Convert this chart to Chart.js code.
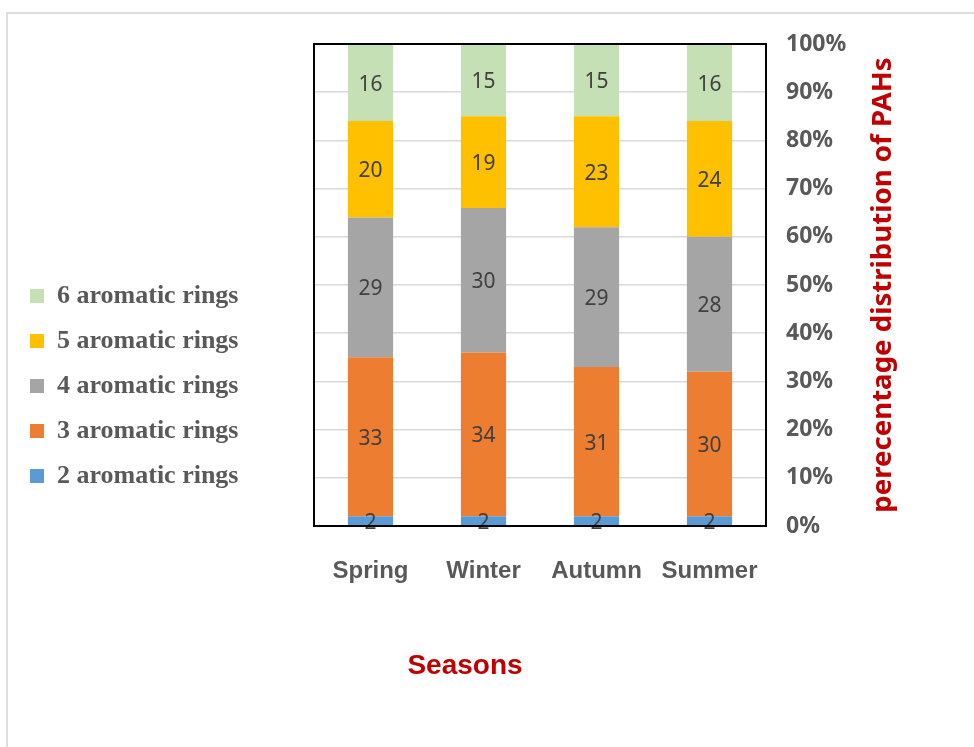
<!DOCTYPE html>
<html>
<head>
<meta charset="utf-8">
<script src="https://cdn.jsdelivr.net/npm/chart.js@4.4.0/dist/chart.umd.min.js"></script>
<style>
  html, body { margin: 0; padding: 0; background: #fff; overflow: hidden; }
  .frame { position: absolute; left: 6px; top: 12px; width: 1000px; height: 800px; border: 2px solid #dedede; }
  #wrap { position: absolute; left: 0; top: 0; width: 974px; height: 747px; }
</style>
</head>
<body>
<div class="frame"></div>
<div id="wrap"><canvas id="pahChart" width="974" height="747"></canvas></div>
<script>
const seasons = ["Spring", "Winter", "Autumn", "Summer"];
const ringNames = ["2 aromatic rings", "3 aromatic rings", "4 aromatic rings", "5 aromatic rings", "6 aromatic rings"];
const ring2 = [2, 2, 2, 2];
const ring3 = [33, 34, 31, 30];
const ring4 = [29, 30, 29, 28];
const ring5 = [20, 19, 23, 24];
const ring6 = [16, 15, 15, 16];
const ringColors = ["#5B9BD5", "#ED7D31", "#A5A5A5", "#FFC000", "#C5E0B4"];
const yMax = 100;
const yStep = 10;

const PLOT_LEFT = 314;
const PAD_LEFT = 11;
const PAD_BOTTOM = 19;

// numbers in the middle of every stacked segment
const segmentLabels = {
  id: "segmentLabels",
  afterDatasetsDraw(chart) {
    const ctx = chart.ctx;
    ctx.save();
    ctx.font = '21px "Noto Sans"';
    ctx.fillStyle = "#404040";
    ctx.textAlign = "center";
    ctx.textBaseline = "middle";
    chart.data.datasets.forEach((ds, i) => {
      chart.getDatasetMeta(i).data.forEach((bar, j) => {
        const p = bar.getCenterPoint();
        ctx.fillText(ds.data[j], p.x, p.y + 2);
      });
    });
    ctx.restore();
  }
};

// black box round the plot + the two axis titles
const plotFrame = {
  id: "plotFrame",
  afterDraw(chart) {
    const { ctx, chartArea: a } = chart;
    ctx.save();
    ctx.strokeStyle = "#000";
    ctx.lineWidth = 2;
    ctx.strokeRect(a.left, a.top, a.right - a.left, a.bottom - a.top);

    ctx.fillStyle = "#C00000";
    ctx.textAlign = "center";
    ctx.textBaseline = "middle";
    ctx.font = 'bold 28px "Liberation Sans"';
    ctx.fillText("Seasons", 465, 666);

    ctx.translate(883, (a.top + a.bottom) / 2);
    ctx.rotate(-Math.PI / 2);
    ctx.font = 'bold 27.6px "Noto Sans"';
    ctx.fillText("perecentage distribution of PAHs", 0, 0);
    ctx.restore();
  }
};

const series = [ring2, ring3, ring4, ring5, ring6];

new Chart(document.getElementById("pahChart"), {
  type: "bar",
  data: {
    labels: seasons,
    datasets: series.map((vals, i) => ({
      label: ringNames[i],
      data: vals,
      backgroundColor: ringColors[i],
      borderWidth: 0,
      categoryPercentage: 1,
      barPercentage: 0.4
    }))
  },
  options: {
    responsive: false,
    animation: false,
    layout: { padding: { left: PAD_LEFT, top: 44, right: 0, bottom: PAD_BOTTOM } },
    plugins: {
      tooltip: { enabled: false },
      legend: {
        position: "left",
        reverse: true,
        maxWidth: 400,
        labels: {
          boxWidth: 14,
          boxHeight: 14,
          padding: 19,
          color: "#595959",
          font: { family: "Liberation Serif", size: 26, weight: "bold" }
        }
      }
    },
    scales: {
      x: {
        stacked: true,
        grid: { display: false, drawTicks: false },
        border: { display: false },
        ticks: {
          padding: 31,
          color: "#595959",
          font: { family: "Liberation Sans", size: 24, weight: "bold" }
        },
        afterFit(s) { s.height = 221 - PAD_BOTTOM; }
      },
      y: {
        stacked: true,
        position: "right",
        min: 0,
        max: yMax,
        grid: { color: "#d9d9d9", lineWidth: 1.5, drawTicks: false },
        border: { display: false },
        ticks: {
          stepSize: yStep,
          padding: 20,
          color: "#595959",
          font: { family: "Noto Sans", size: 23, weight: "bold" },
          callback: v => v + "%"
        },
        afterFit(s) { s.width = 208; }
      },
      gap: {
        type: "linear",
        position: "left",
        grid: { display: false, drawTicks: false },
        border: { display: false },
        ticks: { display: false },
        afterFit(s) {
          const lw = s.chart.legend ? s.chart.legend.width : 260;
          s.width = PLOT_LEFT - PAD_LEFT - lw;
        }
      }
    }
  },
  plugins: [segmentLabels, plotFrame]
});
</script>
</body>
</html>
